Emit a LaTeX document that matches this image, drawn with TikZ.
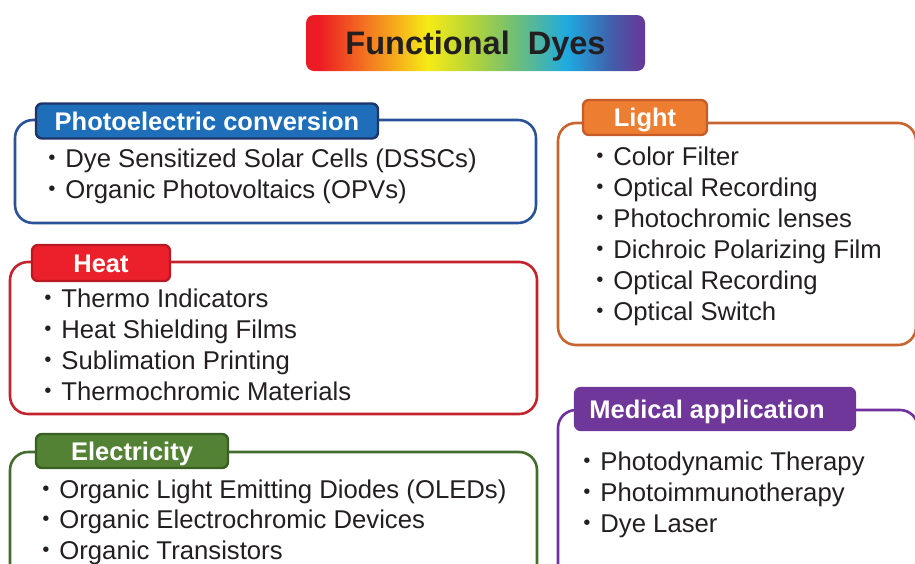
\documentclass[tikz,border=0pt]{standalone}
\usepackage{fontspec}
\setmainfont{Liberation Sans}
\newfontfamily\jpfont{Noto Sans CJK JP}
\newcommand\dotm{{\jpfont ・}}

\definecolor{rbred}{RGB}{237,28,36}
\definecolor{rborange}{RGB}{243,112,33}
\definecolor{rbyellow}{RGB}{246,235,22}
\definecolor{rblime}{RGB}{175,210,60}
\definecolor{rbgreen}{RGB}{110,190,120}
\definecolor{rbcyan}{RGB}{30,170,225}
\definecolor{rbblue}{RGB}{65,95,170}
\definecolor{rbpurple}{RGB}{105,55,150}
\pgfdeclarehorizontalshading{rainbow}{100bp}{color(0bp)=(rbred); color(27bp)=(rbred);
  color(33.5bp)=(rborange); color(43bp)=(rbyellow); color(50bp)=(rblime);
  color(56bp)=(rbgreen); color(63.5bp)=(rbcyan); color(70bp)=(rbblue);
  color(75bp)=(rbpurple); color(100bp)=(rbpurple)}

\begin{document}
\begin{tikzpicture}[
  x=1pt,y=-1pt,
  title/.style={shade,shading=rainbow,rounded corners=8pt,minimum width=339pt,
    minimum height=56pt,text=ink,text height=23pt,text depth=0pt,inner sep=0pt,
    font=\bfseries\fontsize{32.5}{36}\selectfont},
  grp/.style={draw=#1,line width=2.6pt,rounded corners=18pt},
  tab/.style={fill=#1f,draw=#1d,line width=2.4pt,rounded corners=6pt,text=white,
    text height=18.3pt,text depth=0pt,inner sep=0pt,
    font=\bfseries\fontsize{25.5}{30}\selectfont},
  item/.style={anchor=base west,inner sep=0pt,text=ink,
    font=\fontsize{25.7}{30}\selectfont}]

  \definecolor{ink}{RGB}{35,31,32}
  \definecolor{pcf}{RGB}{30,110,185}  \definecolor{pcd}{RGB}{31,52,105}
  \definecolor{pcl}{RGB}{41,82,152}
  \definecolor{heatf}{RGB}{236,32,42} \definecolor{heatd}{RGB}{185,25,35}
  \definecolor{heatl}{RGB}{195,35,45}
  \definecolor{elecf}{RGB}{84,130,53} \definecolor{elecd}{RGB}{58,95,35}
  \definecolor{elecl}{RGB}{68,108,45}
  \definecolor{lightf}{RGB}{237,125,49} \definecolor{lightd}{RGB}{200,92,40}
  \definecolor{lightl}{RGB}{200,100,45}
  \definecolor{medf}{RGB}{112,55,155} \definecolor{medd}{RGB}{112,55,155}
  \definecolor{medl}{RGB}{112,48,160}

  \useasboundingbox (0,0) rectangle (915,563);
  \clip (0,0) rectangle (915,563);

  % ================= title =================
  \node[title] (ttl) at (475.5,43) {Functional\ \ Dyes};

  % ================= group frames =================
  \draw[grp=pcl] (15,120) rectangle (536,223);
  \draw[grp=heatl] (10,262) rectangle (537,414);
  \draw[grp=elecl] (10,452) rectangle (537,600);
  \draw[grp=lightl] (558,123) rectangle (916,345);
  \draw[grp=medl] (558,410) rectangle (918,600);

  % ================= tabs =================
  \node[tab=pc,minimum width=342pt,minimum height=35pt] (pctab) at (207,121)
    {Photoelectric conversion};
  \node[tab=heat,minimum width=138pt,minimum height=36pt] (heattab) at (101,263)
    {Heat};
  \node[tab=elec,minimum width=192pt,minimum height=34pt] (electab) at (132,451)
    {Electricity};
  \node[tab=light,minimum width=124pt,minimum height=35pt] (lighttab) at (645,117.5)
    {Light};
  \node[tab=med,minimum width=280pt,minimum height=42pt] (medtab) at (715,409)
    {Medical application\hspace*{16pt}};

  % ================= items =================
  \foreach \t [count=\i] in {Dye Sensitized Solar Cells (DSSCs),
      Organic Photovoltaics (OPVs)}
    \node[item] (pc\i) at (39.5,{167.5+31*(\i-1)}) {\dotm\t};

  \foreach \t [count=\i] in {Thermo Indicators,Heat Shielding Films,
      Sublimation Printing,Thermochromic Materials}
    \node[item] (heat\i) at (35.5,{307+31*(\i-1)}) {\dotm\t};

  \foreach \t [count=\i] in {Organic Light Emitting Diodes (OLEDs),
      Organic Electrochromic Devices,Organic Transistors}
    \node[item] (elec\i) at (33.5,{498+30.5*(\i-1)}) {\dotm\t};

  \foreach \t [count=\i] in {Color Filter,Optical Recording,Photochromic lenses,
      Dichroic Polarizing Film,Optical Recording,Optical Switch}
    \node[item] (light\i) at (587.5,{165+31*(\i-1)}) {\dotm\t};

  \foreach \t [count=\i] in {Photodynamic Therapy,Photoimmunotherapy,Dye Laser}
    \node[item] (med\i) at (574.5,{470+31*(\i-1)}) {\dotm\t};
\end{tikzpicture}
\end{document}
